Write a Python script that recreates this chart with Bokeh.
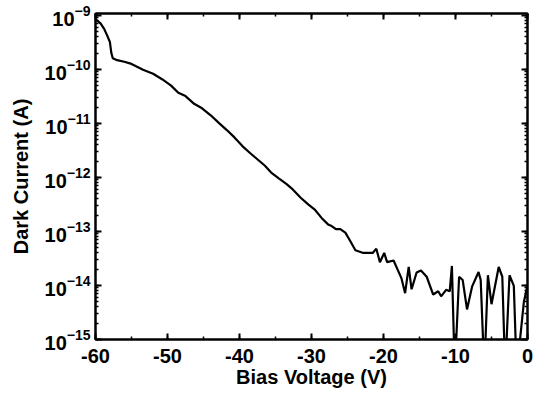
from bokeh.plotting import figure
from bokeh.models import Range1d, LinearAxis, LogAxis, SingleIntervalTicker, LogTicker
from bokeh.embed import file_html
from bokeh.resources import INLINE

# Bias voltage (V) and dark current (A)
bias_voltage = [
    -60.0, -59.3, -58.8, -58.3, -58.0, -57.8, -57.6, -57.0, -56.0, -55.0,
    -53.4, -52.0, -50.7, -49.5, -48.5, -47.5, -46.3, -45.2, -44.0, -42.8,
    -41.8, -40.7, -39.6, -38.5, -37.4, -36.5, -35.6, -34.5, -33.5, -32.6,
    -31.5, -30.5, -29.5, -28.6, -27.7, -27.2, -26.6, -26.0, -25.3, -24.6,
    -23.9, -22.8, -21.5, -21.0, -20.5, -19.9, -19.5, -18.6, -17.5, -17.0,
    -16.5, -16.1, -15.4, -14.8, -14.0, -13.1, -12.4, -12.0, -11.3, -10.8,
    -10.5, -10.1, -9.5, -9.0, -8.4, -7.7, -6.8, -6.5, -6.0, -5.5,
    -5.0, -4.0, -3.5, -3.1, -2.5, -1.9, -1.5, -0.5, 0.0,
]
dark_current = [
    8.5e-10, 7.1e-10, 5.6e-10, 4.0e-10, 3.2e-10, 2.0e-10, 1.6e-10, 1.48e-10, 1.38e-10, 1.26e-10,
    9.8e-11, 8.3e-11, 6.5e-11, 5.0e-11, 3.7e-11, 3.2e-11, 2.3e-11, 1.9e-11, 1.41e-11, 1.0e-11,
    7.6e-12, 5.5e-12, 3.8e-12, 2.8e-12, 2.1e-12, 1.66e-12, 1.23e-12, 9.5e-13, 7.6e-13, 6.0e-13,
    4.2e-13, 3.2e-13, 2.5e-13, 1.78e-13, 1.35e-13, 1.26e-13, 1.10e-13, 1.10e-13, 9.5e-14, 6.6e-14,
    4.5e-14, 4.0e-14, 4.0e-14, 4.8e-14, 2.7e-14, 4.0e-14, 2.7e-14, 2.9e-14, 1.35e-14, 7.2e-15,
    2.2e-14, 8.5e-15, 1.74e-14, 1.9e-14, 1.45e-14, 6.8e-15, 7.8e-15, 6.3e-15, 8.3e-15, 7.8e-15,
    2.3e-14, 2.5e-16, 1.45e-14, 1.26e-14, 3.6e-15, 9.5e-15, 1.78e-14, 1.26e-14, 2.5e-16, 1.55e-14,
    4.5e-15, 2.2e-14, 1.45e-14, 2.5e-16, 1.55e-14, 9.8e-15, 2.5e-16, 5.0e-15, 1.0e-14,
]

x_ticks = [-60, -50, -40, -30, -20, -10, 0]
y_title = "Dark Current (A)"
x_title = "Bias Voltage (V)"

FONT = "Liberation Sans"

p = figure(
    width=537, height=393,
    y_axis_type="log",
    x_range=Range1d(-60, 0),
    y_range=Range1d(1e-15, 1.08e-9),
    output_backend="svg",
    toolbar_location=None,
    min_border_left=95, min_border_right=10,
    min_border_top=13, min_border_bottom=54,
)
p.grid.visible = False
p.background_fill_color = "white"
p.outline_line_color = "black"
p.outline_line_width = 2

p.line(bias_voltage, dark_current, line_color="black", line_width=2.2)

xticker = SingleIntervalTicker(interval=10, num_minor_ticks=2)
yticker = LogTicker(num_minor_ticks=10)

def style(ax):
    ax.axis_line_color = "black"
    ax.axis_line_width = 2
    ax.major_tick_in = 6
    ax.major_tick_out = 0
    ax.minor_tick_in = 3
    ax.minor_tick_out = 0
    ax.major_tick_line_width = 2
    ax.minor_tick_line_width = 1.5
    ax.major_tick_line_color = "black"
    ax.minor_tick_line_color = "black"
    ax.major_label_text_font = FONT
    ax.major_label_text_font_style = "bold"
    ax.major_label_text_font_size = "20px"
    ax.major_label_text_color = "black"
    ax.axis_label_text_font = FONT
    ax.axis_label_text_font_style = "bold"
    ax.axis_label_text_font_size = "20px"
    ax.axis_label_text_color = "black"

xa = p.xaxis[0]
xa.ticker = xticker
xa.major_label_overrides = {v: str(v) for v in x_ticks}
xa.axis_label = x_title
style(xa)
xa.major_label_standoff = 9
xa.axis_label_standoff = 0

ya = p.yaxis[0]
ya.ticker = yticker
ya.axis_label = y_title
style(ya)
ya.major_label_standoff = 5
ya.axis_label_standoff = 10

top = LinearAxis(ticker=xticker)
style(top)
top.major_label_text_font_size = "1px"
top.major_label_text_color = None
top.major_label_standoff = 0
p.add_layout(top, "above")

right = LogAxis(ticker=yticker)
style(right)
right.major_label_text_font_size = "1px"
right.major_label_text_color = None
right.major_label_standoff = 0
p.add_layout(right, "right")

open("out.html", "w").write(file_html(p, INLINE))
